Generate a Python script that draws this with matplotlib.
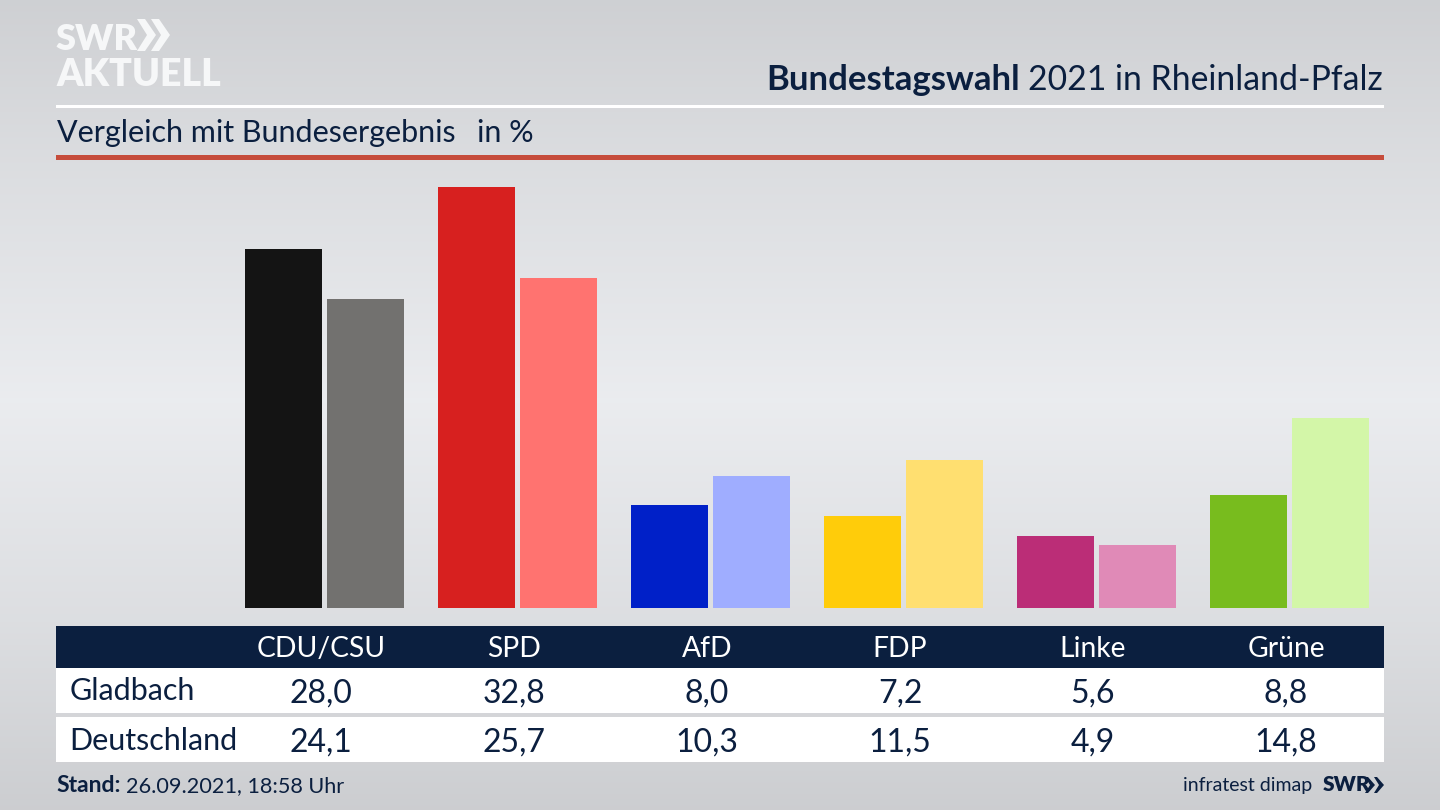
import numpy as np
import matplotlib
matplotlib.use('Agg')
import matplotlib.pyplot as plt
from matplotlib.patches import Rectangle, Polygon

parties = ['CDU/CSU', 'SPD', 'AfD', 'FDP', 'Linke', 'Grüne']
gladbach = [28.0, 32.8, 8.0, 7.2, 5.6, 8.8]
deutschland = [24.1, 25.7, 10.3, 11.5, 4.9, 14.8]
colors_gladbach = ['#141414', '#d7201f', '#0020c8', '#ffcc0a', '#bb2d77', '#78bc1e']
colors_deutschland = ['#72716f', '#ff7370', '#9fadff', '#ffdf70', '#e08ab7', '#d3f6a8']

NAVY = '#0b1f3f'
plt.rcParams['font.family'] = ['Lato', 'DejaVu Sans']

W, H = 1440, 810
fig = plt.figure(figsize=(W / 100, H / 100), dpi=100)

# background + all the furniture in pixel coords
bg = fig.add_axes([0, 0, 1, 1], zorder=0)
bg.set_xlim(0, W)
bg.set_ylim(H, 0)
bg.axis('off')
stops_y = [0, 160, 400, 620, 810]
stops_v = [0.81, 0.86, 0.92, 0.865, 0.80]
grad = np.interp(np.arange(H), stops_y, stops_v)
rgb = np.stack([grad, grad + 0.006, grad + 0.018], axis=1).clip(0, 1)[:, None, :]
bg.imshow(rgb, extent=[0, W, H, 0], aspect='auto', zorder=0)

# bars, y scale from 32.8 -> 421 px
ax = fig.add_axes([0, (H - 608) / H, 1, 448 / H], zorder=1)
ax.patch.set_alpha(0)
ax.set_xlim(-324.8 / 193, (W - 324.8) / 193)
ax.set_ylim(0, 448 / 12.83)
ax.axis('off')
x = np.arange(len(parties))
ax.bar(x - 0.2124, gladbach, width=0.399, color=colors_gladbach)
ax.bar(x + 0.2124, deutschland, width=0.399, color=colors_deutschland)

fg = fig.add_axes([0, 0, 1, 1], zorder=2)
fg.set_xlim(0, W)
fg.set_ylim(H, 0)
fg.axis('off')
fg.patch.set_alpha(0)

# header
fg.add_patch(Rectangle((56, 104.5), 1328, 3, color='white', lw=0))
fg.add_patch(Rectangle((56, 155), 1328, 5, color='#c64d3c', lw=0))
fg.text(1383, 90, '2021 in Rheinland-Pfalz', ha='right', va='baseline', fontsize=24.3, color=NAVY)
fg.text(1020, 90, 'Bundestagswahl', ha='right', va='baseline', fontsize=25,
        fontweight='bold', color=NAVY)
fg.text(57, 142, 'Vergleich mit Bundesergebnis', ha='left', va='baseline', fontsize=22, color=NAVY)
fg.text(477, 142, 'in %', ha='left', va='baseline', fontsize=22, color=NAVY)

# logo
fg.text(56, 50, 'SWR', ha='left', va='baseline', fontsize=26, fontweight='heavy', color='#f6f7f8')
fg.text(56, 86, 'AKTUELL', ha='left', va='baseline', fontsize=27, fontweight='heavy', color='#f6f7f8')
for x0 in (137, 151):
    fg.add_patch(Polygon([(x0, 19), (x0 + 8, 19), (x0 + 19, 35), (x0 + 8, 51), (x0, 51), (x0 + 10, 35)],
                         closed=True, color='#f6f7f8', lw=0))

# table
fg.add_patch(Rectangle((56, 626), 1328, 42, color=NAVY, lw=0))
fg.add_patch(Rectangle((56, 668), 1328, 45, color='white', lw=0))
fg.add_patch(Rectangle((56, 717), 1328, 45, color='white', lw=0))
for i, p in enumerate(parties):
    cx = 321 + 193 * i
    fg.text(cx, 657, p, ha='center', va='baseline', fontsize=20.3, color='white')
    fg.text(cx, 703, f'{gladbach[i]:.1f}'.replace('.', ','), ha='center', va='baseline', fontsize=23, color=NAVY)
    fg.text(cx, 752, f'{deutschland[i]:.1f}'.replace('.', ','), ha='center', va='baseline', fontsize=23, color=NAVY)
fg.text(70, 700, 'Gladbach', ha='left', va='baseline', fontsize=22, color=NAVY)
fg.text(69, 750, 'Deutschland', ha='left', va='baseline', fontsize=22, color=NAVY)

# footer
fg.text(56, 792, 'Stand:', ha='left', va='baseline', fontsize=16.5, fontweight='bold', color=NAVY)
fg.text(126, 792, '26.09.2021, 18:58 Uhr', ha='left', va='baseline', fontsize=15.6, color=NAVY)
fg.text(1312, 791, 'infratest dimap', ha='right', va='baseline', fontsize=14, color=NAVY)
fg.text(1323, 791, 'SWR', ha='left', va='baseline', fontsize=15, fontweight='heavy', color=NAVY)
for x0 in (1365, 1374):
    fg.add_patch(Polygon([(x0, 777), (x0 + 3, 777), (x0 + 10, 785), (x0 + 3, 793), (x0, 793), (x0 + 5, 785)],
                         closed=True, color=NAVY, lw=0))

fig.savefig('out.png', dpi=100)
